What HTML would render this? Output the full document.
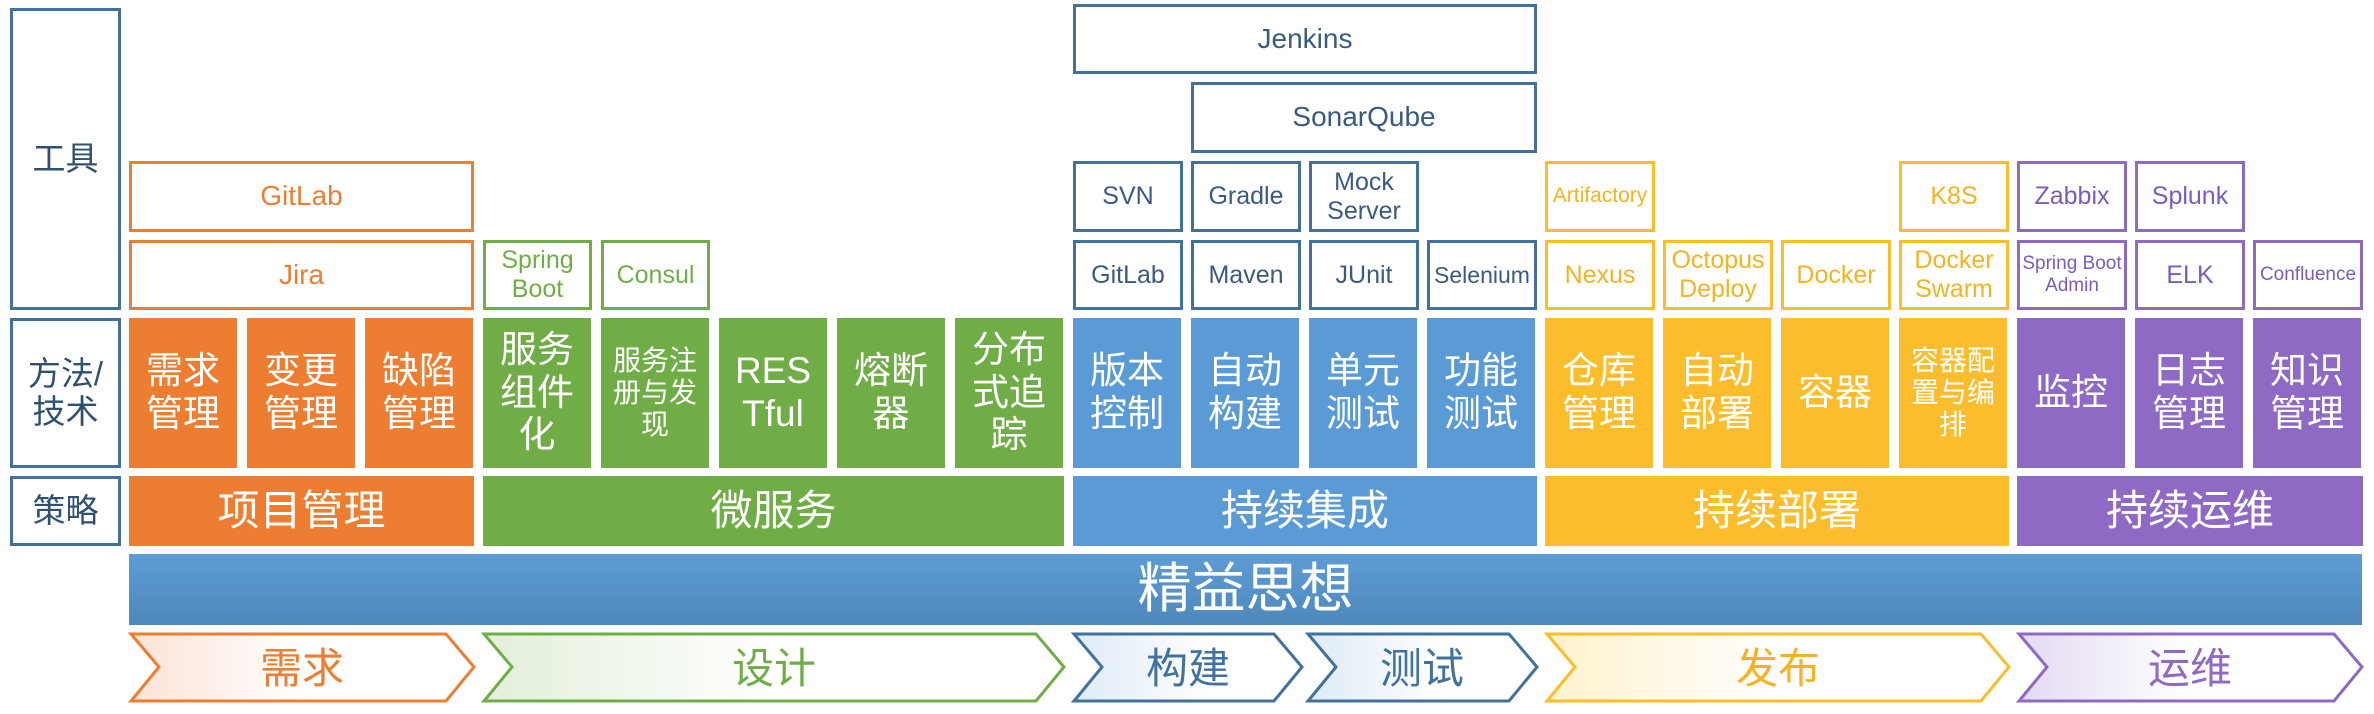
<!DOCTYPE html>
<html><head><meta charset="utf-8"><style>
body{margin:0;width:2374px;height:714px;background:#fff;position:relative;overflow:hidden;font-family:"Liberation Sans","Noto Sans CJK SC",sans-serif;}
.a{position:absolute;box-sizing:border-box;display:flex;align-items:center;justify-content:center;text-align:center;line-height:1.15;}
.lb{border:3px solid #41719C;color:#2F5070;font-size:33px;}
.t{border:3px solid;background:#fff;font-size:28px;}
.o{border-color:#ED7D31;color:#ED7D31}.g{border-color:#70AD47;color:#70AD47}.b{border-color:#41719C;color:#3A5A80}.y{border-color:#FBBD2B;color:#F5B31F}.p{border-color:#8E6AC4;color:#7A5CC0}
.m{color:#fff;font-size:37px;top:318px;height:150px;width:108px;}
.s{color:#fff;font-size:42px;top:476px;height:70px;}
.O{background:#ED7D31}.G{background:#70AD47}.B{background:#5B9BD5}.Y{background:#FBBD2B}.P{background:#8E6AC4}
</style></head><body>
<div class="a lb" style="left:10px;top:8px;width:111px;height:302px">工具</div>
<div class="a lb" style="left:10px;top:318px;width:111px;height:150px">方法/<br>技术</div>
<div class="a lb" style="left:10px;top:476px;width:111px;height:70px">策略</div>

<!-- tools -->
<div class="a t o" style="left:129px;top:161px;width:345px;height:71px">GitLab</div>
<div class="a t o" style="left:129px;top:240px;width:345px;height:70px">Jira</div>
<div class="a t g" style="left:483px;top:240px;width:109px;height:70px;font-size:25px">Spring<br>Boot</div>
<div class="a t g" style="left:601px;top:240px;width:109px;height:70px;font-size:25px">Consul</div>

<div class="a t b" style="left:1073px;top:4px;width:464px;height:70px">Jenkins</div>
<div class="a t b" style="left:1191px;top:82px;width:346px;height:71px">SonarQube</div>
<div class="a t b" style="left:1073px;top:161px;width:110px;height:71px;font-size:25px">SVN</div>
<div class="a t b" style="left:1191px;top:161px;width:110px;height:71px;font-size:25px">Gradle</div>
<div class="a t b" style="left:1309px;top:161px;width:110px;height:71px;font-size:25px">Mock<br>Server</div>
<div class="a t b" style="left:1073px;top:240px;width:110px;height:70px;font-size:25px">GitLab</div>
<div class="a t b" style="left:1191px;top:240px;width:110px;height:70px;font-size:25px">Maven</div>
<div class="a t b" style="left:1309px;top:240px;width:110px;height:70px;font-size:25px">JUnit</div>
<div class="a t b" style="left:1427px;top:240px;width:110px;height:70px;font-size:23px">Selenium</div>

<div class="a t y" style="left:1545px;top:161px;width:110px;height:71px;font-size:21px">Artifactory</div>
<div class="a t y" style="left:1545px;top:240px;width:110px;height:70px;font-size:25px">Nexus</div>
<div class="a t y" style="left:1663px;top:240px;width:110px;height:70px;font-size:25px">Octopus<br>Deploy</div>
<div class="a t y" style="left:1781px;top:240px;width:110px;height:70px;font-size:25px">Docker</div>
<div class="a t y" style="left:1899px;top:161px;width:110px;height:71px;font-size:25px">K8S</div>
<div class="a t y" style="left:1899px;top:240px;width:110px;height:70px;font-size:25px">Docker<br>Swarm</div>

<div class="a t p" style="left:2017px;top:161px;width:110px;height:71px;font-size:25px">Zabbix</div>
<div class="a t p" style="left:2135px;top:161px;width:110px;height:71px;font-size:25px">Splunk</div>
<div class="a t p" style="left:2017px;top:240px;width:110px;height:70px;font-size:19px">Spring Boot<br>Admin</div>
<div class="a t p" style="left:2135px;top:240px;width:110px;height:70px;font-size:25px">ELK</div>
<div class="a t p" style="left:2253px;top:240px;width:110px;height:70px;font-size:19px">Confluence</div>

<!-- methods -->
<div class="a m O" style="left:129px">需求<br>管理</div>
<div class="a m O" style="left:247px">变更<br>管理</div>
<div class="a m O" style="left:365px">缺陷<br>管理</div>
<div class="a m G" style="left:483px">服务<br>组件<br>化</div>
<div class="a m G" style="left:601px;font-size:28px">服务注<br>册与发<br>现</div>
<div class="a m G" style="left:719px">RES<br>Tful</div>
<div class="a m G" style="left:837px">熔断<br>器</div>
<div class="a m G" style="left:955px">分布<br>式追<br>踪</div>
<div class="a m B" style="left:1073px">版本<br>控制</div>
<div class="a m B" style="left:1191px">自动<br>构建</div>
<div class="a m B" style="left:1309px">单元<br>测试</div>
<div class="a m B" style="left:1427px">功能<br>测试</div>
<div class="a m Y" style="left:1545px">仓库<br>管理</div>
<div class="a m Y" style="left:1663px">自动<br>部署</div>
<div class="a m Y" style="left:1781px">容器</div>
<div class="a m Y" style="left:1899px;font-size:28px">容器配<br>置与编<br>排</div>
<div class="a m P" style="left:2017px">监控</div>
<div class="a m P" style="left:2135px">日志<br>管理</div>
<div class="a m P" style="left:2253px">知识<br>管理</div>

<!-- strategy -->
<div class="a s O" style="left:129px;width:345px">项目管理</div>
<div class="a s G" style="left:483px;width:581px">微服务</div>
<div class="a s B" style="left:1073px;width:464px">持续集成</div>
<div class="a s Y" style="left:1545px;width:464px">持续部署</div>
<div class="a s P" style="left:2017px;width:346px">持续运维</div>

<div class="a" style="left:129px;top:554px;width:2233px;height:71px;background:linear-gradient(#5D9CD6,#4F88BA);color:#fff;font-size:54px">精益思想</div>

<svg width="2374" height="714" style="position:absolute;left:0;top:0" xmlns="http://www.w3.org/2000/svg">
<defs>
<linearGradient id="go" x1="0" x2="1"><stop offset="0" stop-color="#FBE3D6"/><stop offset="0.5" stop-color="#fff"/></linearGradient>
<linearGradient id="gg" x1="0" x2="1"><stop offset="0" stop-color="#E2EFDA"/><stop offset="0.5" stop-color="#fff"/></linearGradient>
<linearGradient id="gb" x1="0" x2="1"><stop offset="0" stop-color="#DEEBF7"/><stop offset="0.6" stop-color="#fff"/></linearGradient>
<linearGradient id="gy" x1="0" x2="1"><stop offset="0" stop-color="#FFF2CC"/><stop offset="0.5" stop-color="#fff"/></linearGradient>
<linearGradient id="gp" x1="0" x2="1"><stop offset="0" stop-color="#E4DAF3"/><stop offset="0.5" stop-color="#fff"/></linearGradient>
</defs>
<g stroke-width="3" font-family="Liberation Sans, Noto Sans CJK SC, sans-serif" font-size="42" text-anchor="middle">
<polygon points="131,634 446,634 474,667 446,701 131,701 159,667" fill="url(#go)" stroke="#ED7D31"/>
<text x="302" y="683" fill="#ED7D31" stroke="none">需求</text>
<polygon points="484,634 1036,634 1064,667 1036,701 484,701 512,667" fill="url(#gg)" stroke="#70AD47"/>
<text x="774" y="683" fill="#70AD47" stroke="none">设计</text>
<polygon points="1074,634 1274,634 1302,667 1274,701 1074,701 1102,667" fill="url(#gb)" stroke="#41719C"/>
<text x="1188" y="683" fill="#41719C" stroke="none">构建</text>
<polygon points="1308,634 1509,634 1537,667 1509,701 1308,701 1336,667" fill="url(#gb)" stroke="#41719C"/>
<text x="1422" y="683" fill="#41719C" stroke="none">测试</text>
<polygon points="1547,634 1981,634 2009,667 1981,701 1547,701 1575,667" fill="url(#gy)" stroke="#FBBD2B"/>
<text x="1778" y="683" fill="#F5B31F" stroke="none">发布</text>
<polygon points="2019,634 2334,634 2362,667 2334,701 2019,701 2047,667" fill="url(#gp)" stroke="#8E6AC4"/>
<text x="2190" y="683" fill="#8E6AC4" stroke="none">运维</text>
</g>
</svg>
</body></html>
